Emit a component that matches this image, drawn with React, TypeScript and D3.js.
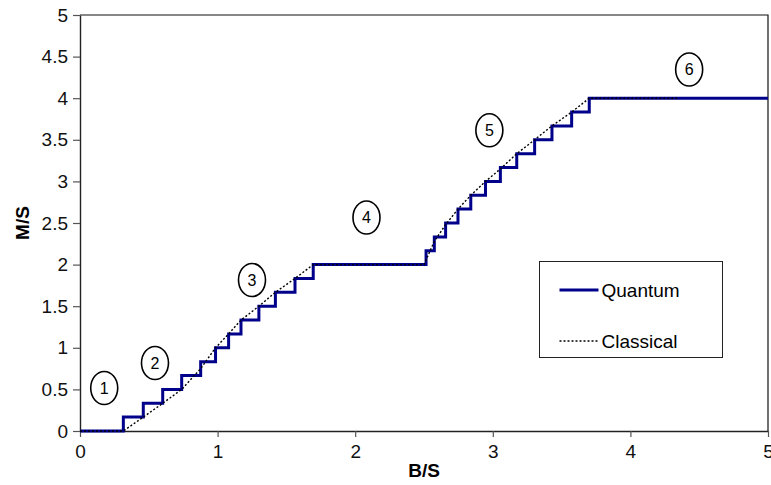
import React, { useRef, useEffect } from "react";
import * as d3 from "d3";

// quantum staircase: M/S jumps at each B/S value (step-after)
const quantumB = [
  0, 0.315, 0.46, 0.601, 0.739, 0.877, 0.985, 1.08, 1.17, 1.3, 1.42, 1.5625, 1.695,
  2.515, 2.575, 2.657, 2.747, 2.84, 2.947, 3.055, 3.174, 3.304, 3.43, 3.573, 3.701, 5,
];
const quantumM = [
  0, 0.167, 0.333, 0.5, 0.667, 0.833, 1.0, 1.167, 1.333, 1.5, 1.667, 1.833, 2.0,
  2.167, 2.333, 2.5, 2.667, 2.833, 3.0, 3.167, 3.333, 3.5, 3.667, 3.833, 4.0, 4.0,
];

// classical curve
const classicalB = [
  0, 0.315, 0.46, 0.601, 0.739, 0.877, 0.985, 1.08, 1.17, 1.3, 1.42, 1.5625, 1.695,
  2.5, 2.575, 2.657, 2.747, 2.84, 2.947, 3.055, 3.174, 3.304, 3.43, 3.573, 3.701, 4.34,
];
const classicalM = [
  0, 0, 0.167, 0.333, 0.5, 0.75, 1.0, 1.167, 1.333, 1.5, 1.667, 1.833, 2.0,
  2.0, 2.28, 2.48, 2.667, 2.833, 3.0, 3.15, 3.333, 3.5, 3.667, 3.833, 4.0, 4.0,
];

// circled region labels
const regionLabels = ["1", "2", "3", "4", "5", "6"];
const regionB = [0.176, 0.545, 1.25, 2.082, 2.975, 4.427];
const regionM = [0.517, 0.817, 1.815, 2.566, 3.614, 4.345];

const xTicks = [0, 1, 2, 3, 4, 5];
const yTicks = [0, 0.5, 1, 1.5, 2, 2.5, 3, 3.5, 4, 4.5, 5];

const legendNames = ["Quantum", "Classical"];

const FONT = "'Liberation Sans', Arial, sans-serif";
const NAVY = "#00008b";

const App = () => {
  const svgRef = useRef(null);
  const width = 771;
  const height = 485;
  const margin = { left: 80, right: 3, top: 15, bottom: 54 };

  useEffect(() => {
    const svg = d3.select(svgRef.current);
    svg.selectAll("*").remove();

    const x = d3.scaleLinear().domain([0, 5]).range([margin.left, width - margin.right]);
    const y = d3.scaleLinear().domain([0, 5]).range([height - margin.bottom, margin.top]);

    // frame (top + right)
    svg
      .append("path")
      .attr("d", `M${x(0)},${y(5)}H${x(5)}V${y(0)}`)
      .attr("fill", "none")
      .attr("stroke", "#111")
      .attr("stroke-width", 1.2);

    // x-axis
    const xAxis = svg
      .append("g")
      .attr("transform", `translate(0, ${y(0)})`)
      .call(d3.axisBottom(x).tickValues(xTicks).tickFormat(d3.format("~g")).tickSize(6).tickPadding(8).tickSizeOuter(0));

    // y-axis
    const yAxis = svg
      .append("g")
      .attr("transform", `translate(${x(0)}, 0)`)
      .call(d3.axisLeft(y).tickValues(yTicks).tickFormat(d3.format("~g")).tickSize(7).tickPadding(5).tickSizeOuter(0));

    [xAxis, yAxis].forEach((g) => {
      g.select(".domain").attr("stroke", "#222").attr("stroke-width", 1.4);
      g.selectAll(".tick line").attr("stroke", "#555").attr("stroke-width", 1.2);
      g.selectAll(".tick text").attr("font-family", FONT).attr("font-size", 19).attr("fill", "#111");
    });

    // axis titles
    svg
      .append("text")
      .attr("x", x(2.5))
      .attr("y", 477)
      .attr("text-anchor", "middle")
      .attr("font-family", FONT)
      .attr("font-weight", "bold")
      .attr("font-size", 19)
      .text("B/S");

    svg
      .append("text")
      .attr("transform", `translate(29, ${y(2.5)}) rotate(-90)`)
      .attr("text-anchor", "middle")
      .attr("font-family", FONT)
      .attr("font-weight", "bold")
      .attr("font-size", 19)
      .text("M/S");

    // quantum staircase
    const quantum = quantumB.map((b, i) => [b, quantumM[i]]);
    const stepLine = d3
      .line()
      .x((d) => x(d[0]))
      .y((d) => y(d[1]))
      .curve(d3.curveStepAfter);
    svg
      .append("path")
      .datum(quantum)
      .attr("d", stepLine)
      .attr("fill", "none")
      .attr("stroke", NAVY)
      .attr("stroke-width", 3);

    // classical
    const classical = classicalB.map((b, i) => [b, classicalM[i]]);
    const line = d3
      .line()
      .x((d) => x(d[0]))
      .y((d) => y(d[1]));
    svg
      .append("path")
      .datum(classical)
      .attr("d", line)
      .attr("fill", "none")
      .attr("stroke", "#000")
      .attr("stroke-width", 1.4)
      .attr("stroke-dasharray", "2,2");

    // circled labels
    const labels = svg
      .append("g")
      .selectAll("g")
      .data(regionLabels)
      .enter()
      .append("g")
      .attr("transform", (d, i) => `translate(${x(regionB[i])}, ${y(regionM[i])})`);
    labels
      .append("ellipse")
      .attr("rx", 13.5)
      .attr("ry", 16.5)
      .attr("fill", "white")
      .attr("stroke", "#000")
      .attr("stroke-width", 1.6);
    labels
      .append("text")
      .attr("text-anchor", "middle")
      .attr("dy", "0.36em")
      .attr("font-family", FONT)
      .attr("font-size", 16)
      .text((d) => d);

    // legend
    const legend = svg.append("g").attr("transform", "translate(539.5, 261.5)");
    legend
      .append("rect")
      .attr("width", 183)
      .attr("height", 96)
      .attr("fill", "white")
      .attr("stroke", "#222")
      .attr("stroke-width", 1);
    const items = legend
      .selectAll("g")
      .data(legendNames)
      .enter()
      .append("g")
      .attr("transform", (d, i) => `translate(0, ${28.5 + i * 51})`);
    items
      .append("line")
      .attr("x1", 20)
      .attr("x2", 59)
      .attr("stroke", (d, i) => (i === 0 ? NAVY : "#000"))
      .attr("stroke-width", (d, i) => (i === 0 ? 3 : 1.4))
      .attr("stroke-dasharray", (d, i) => (i === 0 ? null : "2,2"));
    items
      .append("text")
      .attr("x", 62)
      .attr("dy", "0.36em")
      .attr("font-family", FONT)
      .attr("font-size", 19)
      .text((d) => d);
  });

  return (
    <div>
      <svg
        ref={svgRef}
        width={width}
        height={height}
        style={{ position: "absolute", left: 0, top: 0, background: "white" }}
      ></svg>
    </div>
  );
};

export default App;
